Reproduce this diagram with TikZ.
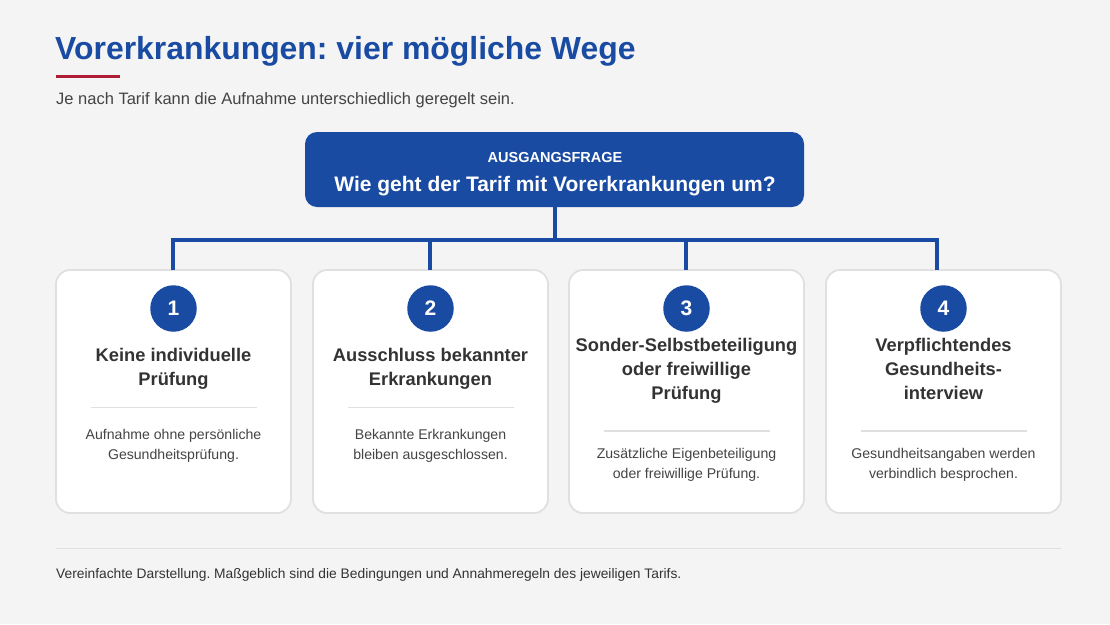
\documentclass[tikz,border=0pt]{standalone}
\usepackage{fontspec}
\setmainfont{Liberation Sans}
\frenchspacing
\definecolor{bg}{HTML}{F4F4F4}
\definecolor{brand}{HTML}{1A4BA3}
\definecolor{accent}{HTML}{B01C35}
\definecolor{ink}{HTML}{333333}
\definecolor{soft}{HTML}{444444}
\definecolor{cardline}{HTML}{E0E0E0}
\tikzset{
  conn/.style={draw=brand, line width=3.8pt},
  card/.style={draw=cardline, line width=1.8pt, fill=white, rounded corners=14pt},
  numdot/.style={circle, fill=brand, minimum size=46.5pt, inner sep=0pt, text=white, font=\fontsize{21}{24}\selectfont\bfseries},
  ctitle/.style={align=center, text=ink, font=\fontsize{18.3}{23.6}\selectfont\bfseries, inner sep=0pt},
  cdesc/.style={align=center, text=soft, font=\fontsize{14.1}{20}\selectfont, inner sep=0pt},
  sep/.style={draw=cardline, line width=1.3pt}
}
\begin{document}
\begin{tikzpicture}[x=1pt,y=-1pt]
\fill[bg] (0,0) rectangle (1110,624);
\useasboundingbox (0,0) rectangle (1110,624);
% header
\node[anchor=base west, inner sep=0pt, text=brand, font=\fontsize{31.9}{36}\selectfont\bfseries] (title) at (55,59.5) {Vorerkrankungen: vier mögliche Wege};
\draw[accent, line width=3.8pt] (56,76.5) -- (120,76.5);
\node[anchor=base west, inner sep=0pt, text=soft, font=\fontsize{16.5}{20}\selectfont] (sub) at (56,104.5) {Je nach Tarif kann die Aufnahme unterschiedlich geregelt sein.};
% top box
\node[fill=brand, rounded corners=12pt, minimum width=499pt, minimum height=75pt, inner sep=0pt] (top) at (554.5,169.5) {};
\node[anchor=base, text=white, inner sep=0pt, font=\fontsize{14.5}{16}\selectfont\bfseries] (q1) at (555,162.5) {AUSGANGSFRAGE};
\node[anchor=base, text=white, inner sep=0pt, font=\fontsize{21}{24}\selectfont\bfseries] (q2) at (555,191) {Wie geht der Tarif mit Vorerkrankungen um?};
% cards
\foreach \i/\cx in {1/173.5, 2/430.5, 3/686.5, 4/943.5} {
  \node[card, minimum width=235pt, minimum height=243pt, inner sep=0pt] (c\i) at (\cx,391.5) {};
  \node[numdot] (n\i) at (\cx,308.5) {\i};
}
% connectors
\coordinate (bar) at (555,240);
\coordinate (k1) at (173,270);
\coordinate (k2) at (430,270);
\coordinate (k3) at (686,270);
\coordinate (k4) at (937,270);
\draw[conn] (top.south -| bar) -- (bar);
\draw[conn] (k1) |- (bar) -| (k4);
\draw[conn] (k2) -- (k2 |- bar);
\draw[conn] (k3) -- (k3 |- bar);
% card texts
\node[ctitle, anchor=base] (t1) at (173.5,385) {Keine individuelle\\Prüfung};
\node[ctitle, anchor=base] (t2) at (430.5,385) {Ausschluss bekannter\\Erkrankungen};
\node[ctitle, anchor=base] (t3) at (686.5,399) {Sonder-Selbstbeteiligung\\oder freiwillige\\Prüfung};
\node[ctitle, anchor=base] (t4) at (943.5,399) {Verpflichtendes\\Gesundheits-\\interview};
\draw[sep] (91,407.5) -- (257,407.5);
\draw[sep] (348,407.5) -- (514,407.5);
\draw[sep] (604,431) -- (770,431);
\draw[sep] (861,431) -- (1027,431);
\node[cdesc, anchor=base] (d1) at (173.5,459) {Aufnahme ohne persönliche\\Gesundheitsprüfung.};
\node[cdesc, anchor=base] (d2) at (430.5,459) {Bekannte Erkrankungen\\bleiben ausgeschlossen.};
\node[cdesc, anchor=base] (d3) at (686.5,478) {Zusätzliche Eigenbeteiligung\\oder freiwillige Prüfung.};
\node[cdesc, anchor=base] (d4) at (943.5,478) {Gesundheitsangaben werden\\verbindlich besprochen.};
% footer
\draw[draw=cardline, line width=1pt] (56,548.5) -- (1061,548.5);
\node[anchor=base west, inner sep=0pt, text=ink, font=\fontsize{13.8}{16}\selectfont] (foot) at (56,578) {Vereinfachte Darstellung. Maßgeblich sind die Bedingungen und Annahmeregeln des jeweiligen Tarifs.};
\end{tikzpicture}
\end{document}
